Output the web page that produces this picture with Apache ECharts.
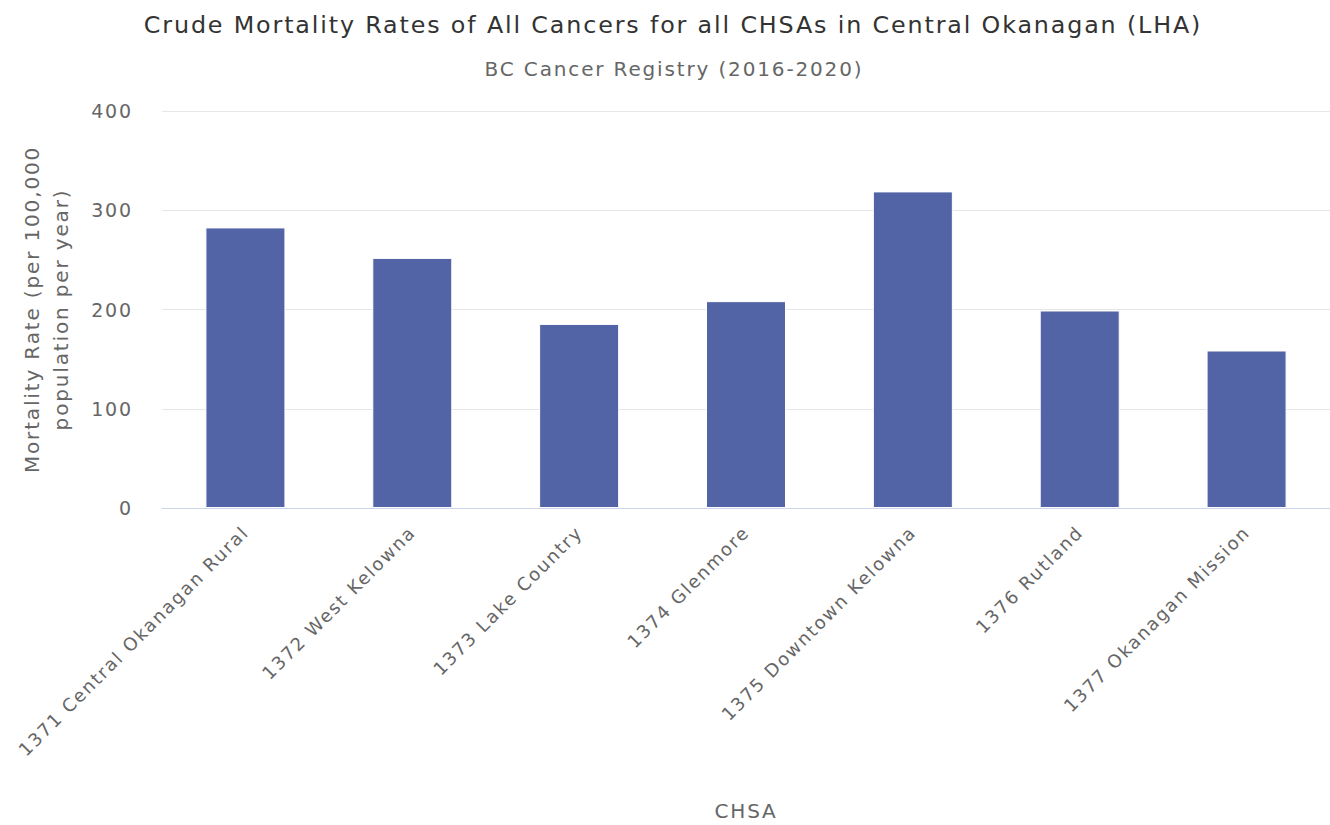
<!DOCTYPE html>
<html>
<head>
<meta charset="utf-8">
<script src="https://cdn.jsdelivr.net/npm/echarts@6/dist/echarts.min.js"></script>
<style>
html,body{margin:0;padding:0;background:#fff;}
#chart{width:1330px;height:825px;}
#chart text{letter-spacing:1.85px;}
</style>
</head>
<body>
<div id="chart"></div>
<script>
const categories = [
  "1371 Central Okanagan Rural",
  "1372 West Kelowna",
  "1373 Lake Country",
  "1374 Glenmore",
  "1375 Downtown Kelowna",
  "1376 Rutland",
  "1377 Okanagan Mission"
];
const mortalityRates = [282.7, 252.0, 185.5, 208.4, 319.0, 199.0, 158.7];
const yTickValues = [0, 100, 200, 300, 400];
const titleText = "Crude Mortality Rates of All Cancers for all CHSAs in Central Okanagan (LHA)";
const subtitleText = "BC Cancer Registry (2016-2020)";
const yAxisName = "Mortality Rate (per 100,000\npopulation per year)";
const xAxisName = "CHSA";

const FONT = "DejaVu Sans";
const chart = echarts.init(document.getElementById('chart'), null, {renderer: 'svg'});
chart.setOption({
  animation: false,
  backgroundColor: '#ffffff',
  title: [
    {
      text: titleText,
      left: 668, top: 8, textAlign: 'center',
      textStyle: {fontFamily: FONT, fontSize: 23.8, fontWeight: 'normal', color: '#333333'}
    },
    {
      text: subtitleText,
      left: 669, top: 54, textAlign: 'center',
      textStyle: {fontFamily: FONT, fontSize: 20, fontWeight: 'normal', color: '#666666'}
    }
  ],
  grid: {left: 162, right: 0, top: 111, bottom: 317, containLabel: false},
  xAxis: {
    type: 'category',
    data: categories,
    name: xAxisName,
    nameLocation: 'middle',
    nameGap: 293,
    nameTextStyle: {fontFamily: FONT, fontSize: 20, color: '#666666'},
    axisLine: {show: true, lineStyle: {color: '#ccd6eb', width: 1}},
    axisTick: {show: false},
    axisLabel: {rotate: 45, margin: 21, fontFamily: FONT, fontSize: 18, color: '#666666', interval: 0}
  },
  yAxis: {
    type: 'value',
    min: yTickValues[0], max: yTickValues[yTickValues.length - 1], interval: 100,
    name: yAxisName,
    nameLocation: 'middle',
    nameGap: 87,
    nameRotate: 90,
    nameTextStyle: {fontFamily: FONT, fontSize: 20, color: '#666666', lineHeight: 29},
    axisLine: {show: false},
    axisTick: {show: false},
    axisLabel: {margin: 29, fontFamily: FONT, fontSize: 19, color: '#666666', padding: [4, 0, 0, 0]},
    splitLine: {lineStyle: {color: '#e6e6e6', width: 1}}
  },
  series: [{
    type: 'bar',
    data: mortalityRates,
    barWidth: 80,
    itemStyle: {color: '#5263a6', borderColor: '#ffffff', borderWidth: 1}
  }]
});
</script>
</body>
</html>
